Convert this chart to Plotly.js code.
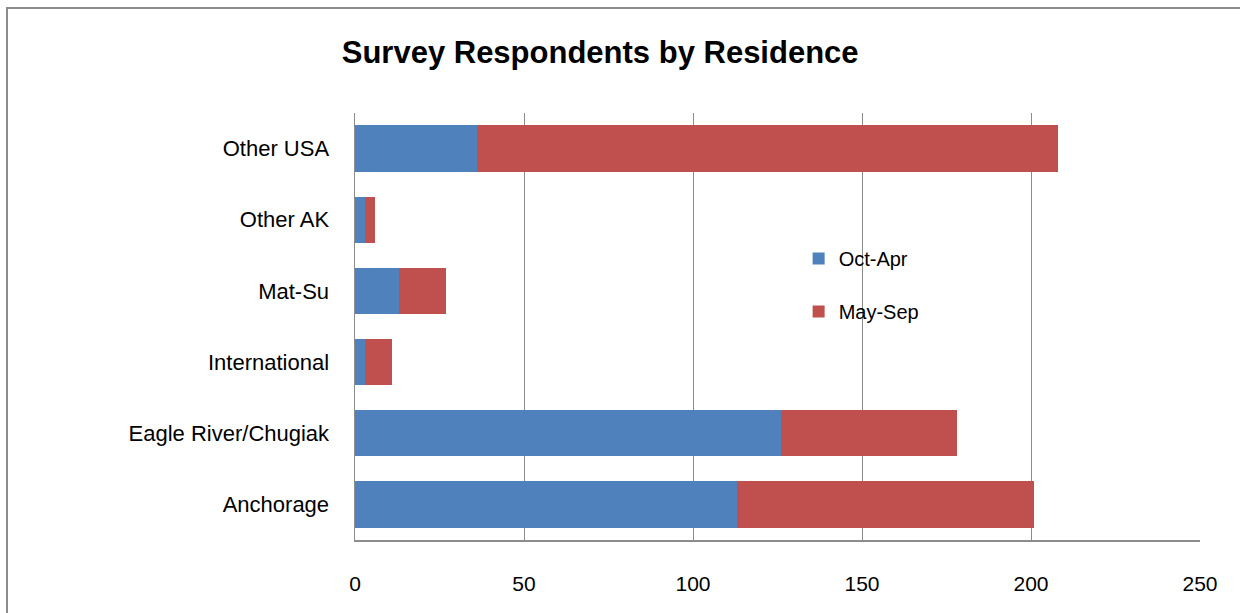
<!DOCTYPE html>
<html>
<head>
<meta charset="utf-8">
<script src="https://cdn.plot.ly/plotly-3.0.1.min.js"></script>
<style>
  html, body { margin: 0; padding: 0; background: #fff; }
  #wrap { position: relative; width: 1240px; height: 613px; overflow: hidden; }
  #chart { position: absolute; left: 0; top: 0; width: 1240px; height: 613px; }
  #frame { position: absolute; left: 6px; top: 7px; width: 1300px; height: 700px;
           border-left: 2px solid #8c8c8c; border-top: 2px solid #8c8c8c; pointer-events: none; }
</style>
</head>
<body>
<div id="wrap">
  <div id="chart"></div>
  <div id="frame"></div>
</div>
<script>
const categories = ["Anchorage", "Eagle River/Chugiak", "International", "Mat-Su", "Other AK", "Other USA"];
const octApr = [113, 126, 3, 13, 3, 36];
const maySep = [88, 52, 8, 14, 3, 172];
const xTicks = [0, 50, 100, 150, 200, 250];

const font = "Liberation Sans, Arial, sans-serif";

const traces = [
  { type: "bar", orientation: "h", name: "Oct-Apr", y: categories, x: octApr,
    marker: { color: "#4F81BD", line: { width: 0 } }, legendgroup: "a" },
  { type: "bar", orientation: "h", name: "May-Sep", y: categories, x: maySep,
    marker: { color: "#C0504D", line: { width: 0 } }, legendgroup: "b" }
];

const layout = {
  width: 1240, height: 613,
  paper_bgcolor: "#fff", plot_bgcolor: "#fff",
  margin: { l: 355, r: 40, t: 113, b: 73 },
  barmode: "stack",
  bargap: 0.35,
  title: { text: "<b>Survey Respondents by Residence</b>", x: 0.484, xanchor: "center",
           y: 0.915, yanchor: "middle",
           font: { family: font, size: 31, color: "#000" } },
  xaxis: { range: [0, 250], tickvals: xTicks, ticktext: xTicks.map(String),
           showgrid: true, gridcolor: "#8c8c8c", gridwidth: 1,
           showline: true, linecolor: "#8c8c8c", linewidth: 1.5, zeroline: false,
           ticks: "", ticklabelstandoff: 24,
           tickfont: { family: font, size: 21, color: "#000" }, fixedrange: true },
  yaxis: { type: "category", showgrid: false, showline: true, linecolor: "#8c8c8c", linewidth: 1.5,
           ticks: "", ticklabelstandoff: 20,
           tickfont: { family: font, size: 22, color: "#000" }, fixedrange: true },
  showlegend: true,
  legend: { x: 0.525, y: 0.597, xanchor: "left", yanchor: "middle",
            traceorder: "grouped", tracegroupgap: 24,
            font: { family: font, size: 20, color: "#000" },
            bgcolor: "rgba(0,0,0,0)", itemwidth: 30 }
};

Plotly.newPlot("chart", traces, layout, { displayModeBar: false, staticPlot: true });
</script>
</body>
</html>
